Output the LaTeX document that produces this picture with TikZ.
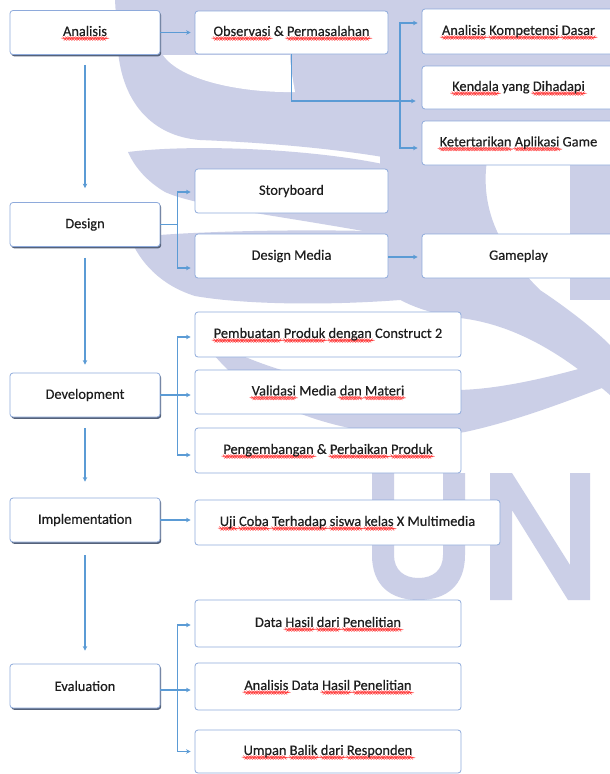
\documentclass[tikz,border=0pt]{standalone}
\usepackage{fontspec}
\setmainfont{Carlito}[FakeBold=0.4]
\usetikzlibrary{arrows.meta,shadows,decorations.pathmorphing}
\definecolor{bordc}{HTML}{8EAADB}
\definecolor{linec}{HTML}{5B9BD5}
\definecolor{shadc}{HTML}{55627A}
\definecolor{txtc}{HTML}{1E1E1E}
\definecolor{wmc}{HTML}{CBCFE7}
\newlength\sqlen
\newcommand\sq[1]{\settowidth\sqlen{#1}\rlap{\tikz[baseline=0pt]{\draw[red!75!white, line width=0.3pt, decorate, decoration={snake, amplitude=0.4pt, segment length=2.6pt}] (0pt,-2.6pt) -- (\sqlen,-2.6pt);}}#1}
\begin{document}
\begin{tikzpicture}[x=1pt,y=-1pt,
  font=\fontsize{14.4}{16}\selectfont, text=txtc,
  box/.style={draw=bordc, line width=0.8pt, rounded corners=3pt, fill=white,
    inner sep=0pt, minimum height=44pt},
  mainbox/.style={box, minimum width=150pt,
    general shadow={fill=shadc, shadow xshift=1.2pt, shadow yshift=-1.8pt}},
  midbox/.style={box, minimum width=193pt},
  widebox/.style={box, minimum width=266pt},
  arr/.style={draw=linec, line width=1.2pt, -{Stealth[length=4.5pt,width=4.5pt]}, shorten >=4pt},
  wm/.style={fill=wmc, draw=none},
  wmw/.style={fill=white, draw=none}]
\useasboundingbox (0,0) rectangle (610,774);
\fill[white] (0,0) rectangle (610,774);

% background watermark (light logo)
\path[wm] (115,0) -- (400,0) -- (400,160) .. controls (330,147) and (250,142) .. (200,140)
  .. controls (150,136) and (122,100) .. (118,50) -- cycle;
\path[wmw] (163,55) .. controls (180,80) and (240,93) .. (295,92) .. controls (292,75) and (290,62) .. (290,55) -- cycle;
\path[wm] (380,0) rectangle (610,165);
\path[wm] (570,160) rectangle (610,300);
\path[wm] (380,160) -- (487,160) .. controls (480,210) and (500,250) .. (540,290)
  .. controls (570,310) and (595,330) .. (610,345) -- (610,395)
  .. controls (570,360) and (520,325) .. (460,318) .. controls (420,312) and (395,300) .. (380,285) -- cycle;
\path[wm] (128,152) .. controls (200,143) and (330,150) .. (400,168) -- (400,238)
  .. controls (300,218) and (200,208) .. (165,192) .. controls (148,182) and (135,168) .. (128,152) -- cycle;
\path[wm] (130,238) .. controls (170,232) and (300,228) .. (400,232) -- (400,300)
  .. controls (320,306) and (240,304) .. (195,296) .. controls (160,285) and (140,262) .. (130,238) -- cycle;
\path[wm] (200,335) .. controls (250,420) and (380,445) .. (465,432)
  .. controls (520,420) and (570,400) .. (610,385) -- (610,360)
  .. controls (560,375) and (500,390) .. (455,390) .. controls (360,392) and (280,380) .. (200,335) -- cycle;
% U
\path[wm] (372,473) -- (372,555) .. controls (372,585) and (390,600) .. (418.5,600)
  .. controls (447,600) and (465,585) .. (465,555) -- (465,473) -- (443,473) -- (443,555)
  .. controls (443,570) and (433,578) .. (418.5,578) .. controls (404,578) and (394,570) .. (394,555)
  -- (394,473) -- cycle;
% N
\path[wm] (490,600) -- (490,473) -- (512,473) -- (570,565) -- (570,473) -- (590,473)
  -- (590,600) -- (568,600) -- (512,510) -- (512,600) -- cycle;

% left column
\node[mainbox] (ana) at (85,32.5) {\sq{Analisis}};
\node[mainbox] (des) at (85,224.5) {Design};
\node[mainbox] (dev) at (85,395) {Development};
\node[mainbox] (imp) at (85,520) {Implementation};
\node[mainbox] (eva) at (85,686) {Evaluation};

% analisis branch
\node[midbox, minimum height=43pt] (obs) at (291.5,32.5) {\sq{Observasi} \& \sq{Permasalahan}};
\node[midbox, minimum height=45pt] (akd) at (518.5,31.5) {\sq{Analisis} \sq{Kompetensi} \sq{Dasar}};
\node[midbox, minimum height=43pt] (ken) at (518.5,87.5) {\sq{Kendala} yang \sq{Dihadapi}};
\node[midbox, minimum height=44pt] (ket) at (518.5,143) {\sq{Ketertarikan} \sq{Aplikasi} Game};

% design branch
\node[midbox] (sto) at (291.5,191) {Storyboard};
\node[midbox] (dm) at (291.5,256) {Design Media};
\node[midbox] (gp) at (518.5,256) {Gameplay};

% development branch
\node[widebox, minimum height=45pt] (pem) at (328,334.5) {\sq{Pembuatan} \sq{Produk} \sq{dengan} Construct 2};
\node[widebox] (val) at (328,392) {\sq{Validasi} Media \sq{dan} \sq{Materi}};
\node[widebox, minimum height=45pt] (pen) at (328,450.5) {\sq{Pengembangan} \& \sq{Perbaikan} \sq{Produk}};

% implementation
\node[box, minimum width=305pt, minimum height=45pt] (uji) at (347.5,522.5) {\sq{Uji} \sq{Coba} \sq{Terhadap} \sq{siswa} \sq{kelas} X Multimedia};

% evaluation branch
\node[widebox, minimum height=47pt] (dh) at (328,623.5) {Data \sq{Hasil} \sq{dari} \sq{Penelitian}};
\node[widebox, minimum height=47pt] (ad) at (328,686.5) {\sq{Analisis} Data \sq{Hasil} \sq{Penelitian}};
\node[widebox, minimum height=43pt] (ub) at (328,751.5) {\sq{Umpan} \sq{Balik} \sq{dari} \sq{Responden}};

% main vertical flow
\draw[arr, shorten <=10pt, shorten >=14pt] (ana.south) -- (des.north);
\draw[arr, shorten <=11pt, shorten >=8pt] (des.south) -- (dev.north);
\draw[arr, shorten <=11pt, shorten >=16pt] (dev.south) -- (imp.north);
\draw[arr, shorten <=13pt, shorten >=13pt] (imp.south) -- (eva.north);

% analisis connectors
\draw[arr] (ana.east) -- (obs.west);
\draw[arr, shorten >=6pt] (obs.south) |- ([yshift=-13.5pt]ken.west);
\coordinate (br) at (400,85);
\draw[arr] (br) |- ([yshift=8.5pt]akd.west);
\draw[arr] (br) |- ([yshift=-5pt]ket.west);

% design connectors
\draw[arr] (des.east) -- ++(17,0) |- ([yshift=-1pt]sto.west);
\draw[arr] (des.east) -- ++(17,0) |- ([yshift=-12pt]dm.west);
\draw[arr] ([yshift=-1pt]dm.east) -- ([yshift=-1pt]gp.west);

% development connectors
\draw[arr] (dev.east) -- ++(17,0) |- ([yshift=-2.5pt]pem.west);
\draw[arr] (dev.east) -- (dev.east -| val.west);
\draw[arr] (dev.east) -- ++(17,0) |- ([yshift=-4.5pt]pen.west);

% implementation connector
\draw[arr] (imp.east) -- (imp.east -| uji.west);

% evaluation connectors
\draw[arr] ([yshift=-4pt]eva.east) -- ++(17,0) |- ([yshift=-1.5pt]dh.west);
\draw[arr] ([yshift=-4pt]eva.east) -- ([yshift=-4pt]eva.east -| ad.west);
\draw[arr] ([yshift=-4pt]eva.east) -- ++(17,0) |- (ub.west);
\end{tikzpicture}
\end{document}
